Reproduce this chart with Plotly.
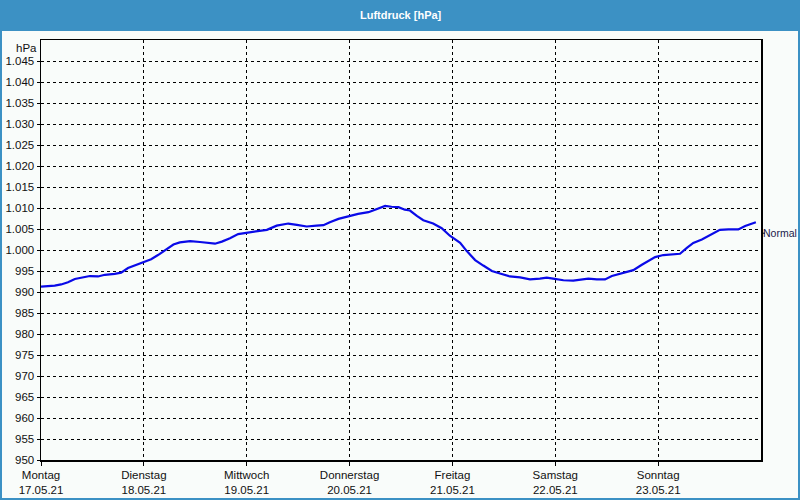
import plotly.graph_objects as go

# hours since Monday 17.05.21 00:00
hours = [0, 3.2, 4.7, 6.3, 7.9, 9.4, 11.4, 13.3, 14.9, 17.2, 18.7, 20.3, 21.9, 23.8,
         25.7, 27.3, 29.3, 30.9, 32.4, 34.8, 37.1, 39.4, 40.6, 42.2, 44.1, 46.0, 48.0,
         50.3, 52.7, 55.0, 57.7, 59.7, 62.0, 64.3, 65.9, 67.4, 69.4, 71.7, 74.0, 76.4,
         78.3, 80.3, 81.8, 83.4, 84.9, 86.1, 87.7, 89.2, 91.5, 93.5, 95.4, 97.8, 99.3,
         101.3, 103.2, 105.2, 107.1, 109.4, 111.8, 114.1, 116.4, 118.0, 119.5, 121.9,
         124.2, 126.2, 127.7, 129.7, 131.6, 133.2, 135.1, 136.7, 138.2, 140.2, 141.3,
         143.3, 145.2, 147.5, 149.1, 150.7, 152.2, 154.2, 156.1, 158.4, 160.4, 162.7,
         164.3, 165.8, 166.8]
pressure = [991.3, 991.5, 991.8, 992.3, 993.1, 993.4, 993.8, 993.7, 994.1, 994.3, 994.6,
            995.7, 996.3, 997.2, 997.8, 998.8, 1000.3, 1001.3, 1001.8, 1002.1, 1001.9,
            1001.6, 1001.5, 1002.0, 1002.8, 1003.8, 1004.1, 1004.5, 1004.8, 1005.8, 1006.3,
            1006.0, 1005.6, 1005.8, 1005.9, 1006.6, 1007.4, 1008.0, 1008.6, 1009.0, 1009.7,
            1010.5, 1010.3, 1010.2, 1009.6, 1009.4, 1008.1, 1007.1, 1006.3, 1005.2, 1003.4,
            1001.7, 999.8, 997.6, 996.3, 995.0, 994.4, 993.7, 993.5, 993.0, 993.2, 993.4,
            993.2, 992.8, 992.7, 992.9, 993.2, 993.0, 993.0, 993.8, 994.4, 994.8, 995.2,
            996.5, 997.2, 998.3, 998.8, 998.9, 999.1, 1000.5, 1001.7, 1002.5, 1003.5,
            1004.8, 1004.9, 1004.9, 1005.7, 1006.3, 1006.6]

day_ticks = [0, 24, 48, 72, 96, 120, 144]
day_names = ["Montag", "Dienstag", "Mittwoch", "Donnerstag", "Freitag", "Samstag", "Sonntag"]
day_dates = ["17.05.21", "18.05.21", "19.05.21", "20.05.21", "21.05.21", "22.05.21", "23.05.21"]

y_ticks = list(range(950, 1050, 5))
y_labels = [str(v) if v < 1000 else "1.%03d" % (v - 1000) for v in y_ticks]

normal_value = 1004
title_text = "Luftdruck [hPa]"

L, R, T, B = 41, 39, 40, 40
W, H = 800, 500
pw, ph = W - L - R, H - T - B

fig = go.Figure()
fig.add_trace(go.Scatter(x=hours, y=pressure, mode="lines",
                         line=dict(color="#0a0ae8", width=2.2), hoverinfo="skip",
                         showlegend=False, cliponaxis=True))

font = dict(family="Liberation Sans", size=11.5, color="#111111")

fig.update_layout(
    width=W, height=H,
    margin=dict(l=L, r=R, t=T, b=B, autoexpand=False),
    paper_bgcolor="#f9fcfa", plot_bgcolor="#f9fcfa",
    font=font,
    xaxis=dict(range=[0, 168], tickvals=day_ticks,
               ticktext=[f"{n}<br>{d}" for n, d in zip(day_names, day_dates)],
               showgrid=True, gridcolor="black", gridwidth=1, griddash="3px,3px",
               showline=True, linecolor="black", linewidth=1.5, mirror=True,
               ticks="outside", ticklen=4, tickcolor="black", zeroline=False,
               tickfont=font, automargin=False),
    yaxis=dict(range=[950, 1050], tickvals=y_ticks, ticktext=y_labels,
               showgrid=True, gridcolor="black", gridwidth=1, griddash="3px,3px",
               showline=True, linecolor="black", linewidth=1.5, mirror=True,
               ticks="outside", ticklen=3, tickcolor="black", zeroline=False,
               tickfont=font, automargin=False),
    shapes=[
        dict(type="rect", xref="paper", yref="paper",
             x0=-L / pw, x1=1 + R / pw, y0=1 + 9 / ph, y1=1 + T / ph,
             fillcolor="#3c91c4", line=dict(width=0), layer="below"),
        dict(type="rect", xref="paper", yref="paper",
             x0=-(L - 1) / pw, x1=1 + (R - 1) / pw, y0=-(B - 1) / ph, y1=1 + T / ph,
             fillcolor="rgba(0,0,0,0)", line=dict(color="#3c91c4", width=2)),
        dict(type="line", xref="paper", yref="y", x0=1, x1=1 + 4 / pw,
             y0=normal_value, y1=normal_value, line=dict(color="black", width=1)),
    ],
    annotations=[
        dict(text="<b>" + title_text + "</b>", xref="paper", yref="paper",
             x=0.5, y=1 + 25 / ph, xanchor="center", yanchor="middle",
             showarrow=False, font=dict(family="Liberation Sans", size=11, color="white")),
        dict(text="hPa", xref="paper", yref="paper", x=-2 / pw, y=1,
             xanchor="right", yanchor="top", showarrow=False, font=font),
        dict(text="Normal", xref="paper", yref="y", x=1 + 1 / pw, y=normal_value,
             xanchor="left", yanchor="middle", showarrow=False, borderpad=0,
             font=dict(family="Liberation Sans", size=10.5, color="#1a1a4a")),
    ],
)

fig.write_html("out.html", config={"displayModeBar": False, "staticPlot": True},
               post_script="document.body.style.margin='0';document.body.style.overflow='hidden';")
